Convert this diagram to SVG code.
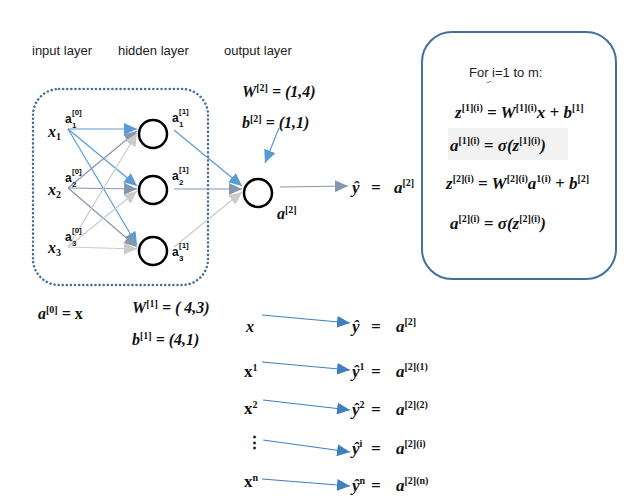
<svg xmlns="http://www.w3.org/2000/svg" width="638" height="501" viewBox="0 0 638 501">
<style>
.lbl{font-family:"Liberation Sans",Arial,sans-serif;font-size:13px;fill:#222}
.m{font-family:"Liberation Serif","Times New Roman",serif;font-size:16px;font-weight:bold;font-style:italic;fill:#111}
.mu{font-family:"Liberation Serif","Times New Roman",serif;font-size:17px;font-weight:bold;fill:#111}
.big{font-size:17px}
.s{font-size:10px;font-style:normal}
.al{font-family:"Liberation Sans",Arial,sans-serif;font-size:12px;font-weight:bold;fill:#111}
.as{font-family:"Liberation Sans",Arial,sans-serif;font-size:8px;font-weight:bold;fill:#111}
.node{fill:#fff;stroke:#000;stroke-width:2.5}
.cb{stroke:#5b9bd5;stroke-width:1.2;fill:none}
.cg{stroke:#8497b0;stroke-width:1.2;fill:none}
.cl{stroke:#cbcbcb;stroke-width:1.2;fill:none}
.cd{stroke:#3f7fc0;stroke-width:1.2;fill:none}
</style>
<defs>
<marker id="mb" markerUnits="userSpaceOnUse" markerWidth="14" markerHeight="12" refX="13" refY="6" orient="auto"><path d="M0,0 L13,6 L0,12 z" fill="#5b9bd5"/></marker>
<marker id="mg" markerUnits="userSpaceOnUse" markerWidth="14" markerHeight="12" refX="13" refY="6" orient="auto"><path d="M0,0 L13,6 L0,12 z" fill="#8497b0"/></marker>
<marker id="ml" markerUnits="userSpaceOnUse" markerWidth="14" markerHeight="12" refX="13" refY="6" orient="auto"><path d="M0,0 L13,6 L0,12 z" fill="#cbcbcb"/></marker>
<marker id="md" markerUnits="userSpaceOnUse" markerWidth="14" markerHeight="12" refX="13" refY="6" orient="auto"><path d="M0,0 L13,6 L0,12 z" fill="#3f7fc0"/></marker>
</defs>
<rect width="638" height="501" fill="#fff"/>

<text class="lbl" x="32" y="55">input layer</text>
<text class="lbl" x="118" y="55">hidden layer</text>
<text class="lbl" x="224" y="55">output layer</text>

<rect x="33" y="89" width="175" height="196" rx="26" fill="none" stroke="#41719c" stroke-width="2.5" stroke-dasharray="0.1 4" stroke-linecap="round"/>

<g id="connectors">
<line class="cb" x1="68" y1="129" x2="137" y2="129" marker-end="url(#mb)"/>
<line class="cb" x1="68" y1="129" x2="137" y2="186" marker-end="url(#mb)"/>
<line class="cb" x1="68" y1="129" x2="137" y2="245" marker-end="url(#mb)"/>
<line class="cg" x1="68" y1="188" x2="137" y2="131" marker-end="url(#mg)"/>
<line class="cg" x1="68" y1="188" x2="137" y2="189" marker-end="url(#mg)"/>
<line class="cg" x1="68" y1="188" x2="137" y2="247" marker-end="url(#mg)"/>
<line class="cl" x1="68" y1="247" x2="137" y2="133" marker-end="url(#ml)"/>
<line class="cl" x1="68" y1="247" x2="137" y2="191" marker-end="url(#ml)"/>
<line class="cl" x1="68" y1="247" x2="137" y2="249" marker-end="url(#ml)"/>
<line class="cb" x1="174" y1="130" x2="242" y2="186" marker-end="url(#mb)"/>
<line class="cg" x1="174" y1="189" x2="242" y2="189" marker-end="url(#mg)"/>
<line class="cl" x1="174" y1="247" x2="242" y2="192" marker-end="url(#ml)"/>
<line class="cb" x1="279" y1="128" x2="265" y2="163" marker-end="url(#mb)"/>
<line class="cg" x1="280" y1="187" x2="348" y2="186" marker-end="url(#mg)"/>
<line class="cd" x1="262" y1="315" x2="350" y2="323" marker-end="url(#md)"/>
<line class="cd" x1="262" y1="362" x2="350" y2="370" marker-end="url(#md)"/>
<line class="cd" x1="263" y1="400" x2="350" y2="410" marker-end="url(#md)"/>
<line class="cd" x1="263" y1="440" x2="350" y2="452" marker-end="url(#md)"/>
<line class="cd" x1="262" y1="479" x2="350" y2="486" marker-end="url(#md)"/>
</g>

<g id="x1"><text class="m" x="48" y="137" font-size="18">x<tspan class="s" dy="3">1</tspan></text>
<text class="al" x="65" y="123">a</text><text class="as" x="72" y="115">[0]</text><text class="as" x="72" y="128">1</text></g>
<g id="x2"><text class="m" x="48" y="195" font-size="18">x<tspan class="s" dy="3">2</tspan></text>
<text class="al" x="65" y="182">a</text><text class="as" x="72" y="174">[0]</text><text class="as" x="72" y="187">2</text></g>
<g id="x3"><text class="m" x="48" y="253" font-size="18">x<tspan class="s" dy="3">3</tspan></text>
<text class="al" x="65" y="241">a</text><text class="as" x="72" y="233">[0]</text><text class="as" x="72" y="246">3</text></g>

<g id="h1"><circle class="node" cx="153" cy="134" r="14"/>
<text class="al" x="172" y="122">a</text><text class="as" x="179" y="114">[1]</text><text class="as" x="179" y="127">1</text></g>
<g id="h2"><circle class="node" cx="153" cy="190" r="14"/>
<text class="al" x="172" y="180">a</text><text class="as" x="179" y="172">[1]</text><text class="as" x="179" y="185">2</text></g>
<g id="h3"><circle class="node" cx="153" cy="251" r="14"/>
<text class="al" x="172" y="256">a</text><text class="as" x="179" y="248">[1]</text><text class="as" x="179" y="261">3</text></g>

<g id="out"><circle class="node" cx="258" cy="193" r="14"/>
<text class="m" x="277" y="219">a<tspan class="s" dy="-6">[2]</tspan></text></g>

<text class="m" x="242" y="97">W<tspan class="s" dy="-6">[2]</tspan><tspan dy="6"> = (1,4)</tspan></text>
<text class="m" x="242" y="128">b<tspan class="s" dy="-6">[2]</tspan><tspan dy="6"> = (1,1)</tspan></text>

<text class="m big" x="352" y="193">ŷ</text><text class="m big" x="371" y="193">=</text><text class="m big" x="394" y="193">a<tspan class="s" dy="-7">[2]</tspan></text>

<g id="loop">
<rect x="422" y="32" width="194" height="247" rx="30" fill="#fff" stroke="#41719c" stroke-width="2"/>
<text class="lbl" x="469" y="77" font-size="15.5">For i=1 to m:</text>
<path d="M487,82 q1,2 2,0 q1,-2 2,0" fill="none" stroke="#e03030" stroke-width="0.8"/>
<text class="m big" x="455" y="118">z<tspan class="s" dy="-7">[1](i)</tspan><tspan dy="7"> = W</tspan><tspan class="s" dy="-7">[1](i)</tspan><tspan dy="7">x + b</tspan><tspan class="s" dy="-7">[1]</tspan></text>
<rect x="448" y="128" width="120" height="32" fill="#f2f2f2"/>
<text class="m big" x="450" y="151">a<tspan class="s" dy="-7">[1](i)</tspan><tspan dy="7"> = σ(z</tspan><tspan class="s" dy="-7">[1](i)</tspan><tspan dy="7">)</tspan></text>
<text class="m big" x="446" y="189">z<tspan class="s" dy="-7">[2](i)</tspan><tspan dy="7"> = W</tspan><tspan class="s" dy="-7">[2](i)</tspan><tspan dy="7">a</tspan><tspan class="s" dy="-7">1(i)</tspan><tspan dy="7"> + b</tspan><tspan class="s" dy="-7">[2]</tspan></text>
<text class="m big" x="450" y="229">a<tspan class="s" dy="-7">[2](i)</tspan><tspan dy="7"> = σ(z</tspan><tspan class="s" dy="-7">[2](i)</tspan><tspan dy="7">)</tspan></text>
</g>

<text class="m" x="38" y="319">a<tspan class="s" dy="-6">[0]</tspan><tspan dy="6"> = </tspan><tspan font-style="normal">x</tspan></text>
<text class="m" x="132" y="313">W<tspan class="s" dy="-6">[1]</tspan><tspan dy="6"> = ( 4,3)</tspan></text>
<text class="m" x="132" y="345">b<tspan class="s" dy="-6">[1]</tspan><tspan dy="6"> = (4,1)</tspan></text>

<text class="m" x="246" y="332" font-size="18">x</text>
<text class="m big" x="352" y="332">ŷ</text><text class="m big" x="371" y="332">=</text><text class="m big" x="396" y="332">a<tspan class="s" dy="-7">[2]</tspan></text>
<text class="mu" x="244" y="377">x<tspan class="s" dy="-6">1</tspan></text>
<text class="m big" x="352" y="377">ŷ<tspan class="s" dy="-7">1</tspan></text><text class="m big" x="371" y="377">=</text><text class="m big" x="396" y="377">a<tspan class="s" dy="-7">[2](1)</tspan></text>
<text class="mu" x="244" y="414">x<tspan class="s" dy="-6">2</tspan></text>
<text class="m big" x="352" y="415">ŷ<tspan class="s" dy="-7">2</tspan></text><text class="m big" x="371" y="415">=</text><text class="m big" x="396" y="415">a<tspan class="s" dy="-7">[2](2)</tspan></text>
<text class="mu" x="246" y="448">⋮</text>
<text class="m big" x="352" y="454">ŷ<tspan class="s" dy="-7">i</tspan></text><text class="m big" x="371" y="454">=</text><text class="m big" x="396" y="454">a<tspan class="s" dy="-7">[2](i)</tspan></text>
<text class="mu" x="244" y="487">x<tspan class="s" dy="-6">n</tspan></text>
<text class="m big" x="352" y="491">ŷ<tspan class="s" dy="-7">n</tspan></text><text class="m big" x="371" y="491">=</text><text class="m big" x="396" y="491">a<tspan class="s" dy="-7">[2](n)</tspan></text>
</svg>
